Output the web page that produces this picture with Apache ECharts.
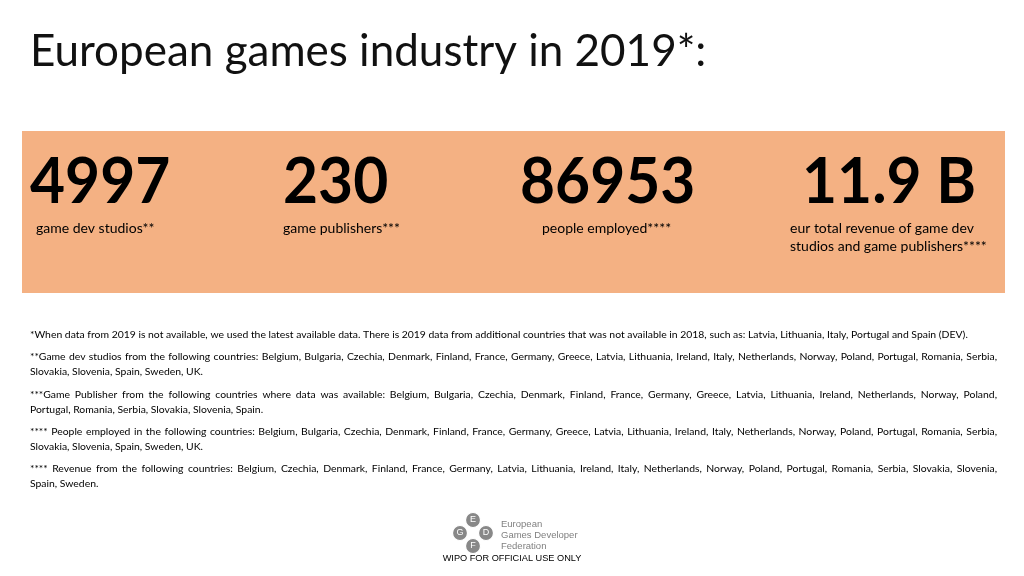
<!DOCTYPE html>
<html><head><meta charset="utf-8">
<script src="https://cdn.jsdelivr.net/npm/echarts@6/dist/echarts.min.js"></script>
<style>html,body{margin:0;padding:0;background:#fff}#c{width:1024px;height:576px}</style>
</head><body><div id="c"></div>
<script>
// ---- data ----
const titleText = 'European games industry in 2019*:';
const statValues = ['4997', '230', '86953', '11.9 B'];
const statLabels = [
  ['game dev studios**'],
  ['game publishers***'],
  ['people employed****'],
  ['eur total revenue of game dev', 'studios and game publishers****']
];
// footnotes: each paragraph is a list of its lines; all but the last line are justified
const footnotes = [
  ['*When data from 2019 is not available, we used the latest available data. There is 2019 data from additional countries that was not available in 2018, such as: Latvia, Lithuania, Italy, Portugal and Spain (DEV).'],
  ['**Game dev studios from the following countries: Belgium, Bulgaria, Czechia, Denmark, Finland, France, Germany, Greece, Latvia, Lithuania, Ireland, Italy, Netherlands, Norway, Poland, Portugal, Romania, Serbia,',
   'Slovakia, Slovenia, Spain, Sweden, UK.'],
  ['***Game Publisher from the following countries where data was available: Belgium, Bulgaria, Czechia, Denmark, Finland, France, Germany, Greece, Latvia, Lithuania, Ireland, Netherlands, Norway, Poland,',
   'Portugal, Romania, Serbia, Slovakia, Slovenia, Spain.'],
  ['**** People employed in the following countries: Belgium, Bulgaria, Czechia, Denmark, Finland, France, Germany, Greece, Latvia, Lithuania, Ireland, Italy, Netherlands, Norway, Poland, Portugal, Romania, Serbia,',
   'Slovakia, Slovenia, Spain, Sweden, UK.'],
  ['**** Revenue from the following countries: Belgium, Czechia, Denmark, Finland, France, Germany, Latvia, Lithuania, Ireland, Italy, Netherlands, Norway, Poland, Portugal, Romania, Serbia, Slovakia, Slovenia,',
   'Spain, Sweden.']
];
const logoLetters = ['E', 'G', 'D', 'F'];
const logoText = ['European', 'Games Developer', 'Federation'];
const stampText = 'WIPO FOR OFFICIAL USE ONLY';

// ---- layout ----
const FONT = 'Lato, Carlito, Calibri, sans-serif';
const statX = [30, 283, 520, 802];
const labelX = [36, 283, 542, 790];
const fnLeft = 30, fnRight = 997, fnSize = 10.4;
const paraY = [335, 357, 395, 432, 469];
const lineGap = 15;

const chart = echarts.init(document.getElementById('c'), null, {renderer: 'canvas'});
const g = [];

g.push({type: 'text', x: 30, y: 30, style: {text: titleText, font: '44px ' + FONT, fill: '#111'}});
g.push({type: 'rect', shape: {x: 22, y: 131, width: 983, height: 162}, style: {fill: '#F4B183'}});

statValues.forEach((v, i) => {
  g.push({type: 'text', x: statX[i], y: 151, scaleX: 0.96, style: {text: v, font: 'bold 63px ' + FONT, fill: '#000'}});
  statLabels[i].forEach((l, j) => {
    g.push({type: 'text', x: labelX[i], y: 228 + j * 18, style: {text: l, font: '14px ' + FONT, fill: '#000', verticalAlign: 'middle'}});
  });
});

const cv = document.createElement('canvas').getContext('2d');
cv.font = fnSize + 'px Lato';
footnotes.forEach((para, pi) => {
  para.forEach((line, li) => {
    const y = paraY[pi] + li * lineGap;
    const justify = li < para.length - 1;
    if (!justify) {
      g.push({type: 'text', x: fnLeft, y: y, style: {text: line, font: fnSize + 'px ' + FONT, fill: '#000', verticalAlign: 'middle'}});
      return;
    }
    const words = line.split(' ');
    const widths = words.map(w => cv.measureText(w).width);
    const sum = widths.reduce((a, b) => a + b, 0);
    const gap = (fnRight - fnLeft - sum) / (words.length - 1);
    let x = fnLeft;
    words.forEach((w, k) => {
      g.push({type: 'text', x: x, y: y, style: {text: w, font: fnSize + 'px ' + FONT, fill: '#000', verticalAlign: 'middle'}});
      x += widths[k] + gap;
    });
  });
});

// logo
const cx = 473, cy = 533, d = 13;
const offs = [[0, -d], [-d, 0], [d, 0], [0, d]];
logoLetters.forEach((L, i) => {
  g.push({type: 'circle', shape: {cx: cx + offs[i][0], cy: cy + offs[i][1], r: 7.5}, style: {fill: '#888', stroke: '#fff', lineWidth: 1.2}});
  g.push({type: 'text', x: cx + offs[i][0], y: cy + offs[i][1], style: {text: L, font: '9px Liberation Sans, Arial, sans-serif', fill: '#fff', align: 'center', verticalAlign: 'middle'}});
});
logoText.forEach((t, i) => {
  g.push({type: 'text', x: 501, y: 524 + i * 11, style: {text: t, font: '9.5px Liberation Sans, Arial, sans-serif', fill: '#808080', verticalAlign: 'middle'}});
});
g.push({type: 'text', x: 512, y: 558, style: {text: stampText, font: '9.2px Liberation Sans, Arial, sans-serif', fill: '#000', align: 'center', verticalAlign: 'middle'}});

chart.setOption({backgroundColor: '#fff', animation: false, graphic: {elements: g}});
</script></body></html>
